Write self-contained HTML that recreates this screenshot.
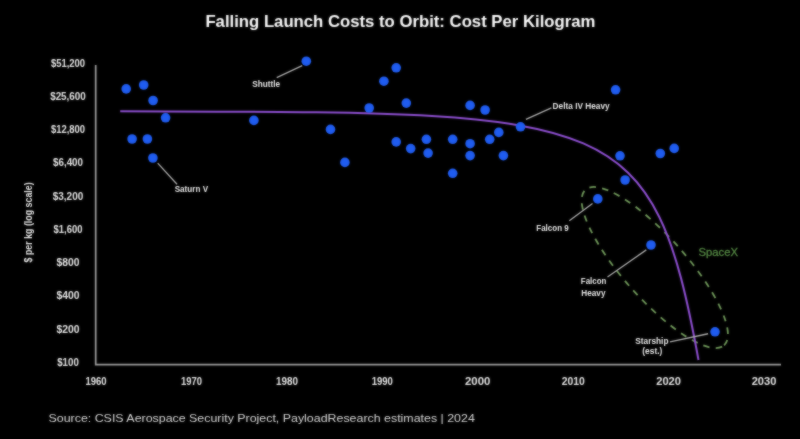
<!DOCTYPE html>
<html><head><meta charset="utf-8"><style>
html,body{margin:0;padding:0;background:#000;width:800px;height:439px;overflow:hidden}
svg{display:block}
text{font-family:"Liberation Sans",sans-serif}
.t{font-weight:bold;font-size:16.2px;fill:#fff}
.yl{font-weight:bold;font-size:10px;fill:#e6e6e6}
.lb{font-size:9.3px;font-weight:bold;fill:#e8e8e8}
.sx{font-size:10.7px;fill:#558a44;stroke:#558a44;stroke-width:0.3px}
.src{font-size:11.6px;fill:#dadada}
</style></head><body>
<svg width="800" height="439" viewBox="0 0 800 439">
<defs><filter id="b" x="-2%" y="-2%" width="104%" height="104%" color-interpolation-filters="sRGB"><feGaussianBlur in="SourceGraphic" stdDeviation="1" result="bl"/><feComposite in="SourceGraphic" in2="bl" operator="arithmetic" k1="0" k2="0.45" k3="0.55" k4="0"/></filter></defs><rect width="800" height="439" fill="#000"/><g filter="url(#b)">
<text x="400.4" y="26.9" text-anchor="middle" class="t" textLength="390" lengthAdjust="spacingAndGlyphs">Falling Launch Costs to Orbit: Cost Per Kilogram</text>
<text x="68" y="66.5" text-anchor="middle" class="yl" textLength="34.25" lengthAdjust="spacingAndGlyphs">$51,200</text>
<text x="68" y="99.7" text-anchor="middle" class="yl" textLength="35.7" lengthAdjust="spacingAndGlyphs">$25,600</text>
<text x="68" y="133.0" text-anchor="middle" class="yl" textLength="34.1" lengthAdjust="spacingAndGlyphs">$12,800</text>
<text x="68" y="166.2" text-anchor="middle" class="yl" textLength="30.0" lengthAdjust="spacingAndGlyphs">$6,400</text>
<text x="68" y="199.5" text-anchor="middle" class="yl" textLength="30.5" lengthAdjust="spacingAndGlyphs">$3,200</text>
<text x="68" y="232.7" text-anchor="middle" class="yl" textLength="28.9" lengthAdjust="spacingAndGlyphs">$1,600</text>
<text x="68" y="266.0" text-anchor="middle" class="yl" textLength="22.9" lengthAdjust="spacingAndGlyphs">$800</text>
<text x="68" y="299.3" text-anchor="middle" class="yl" textLength="23.1" lengthAdjust="spacingAndGlyphs">$400</text>
<text x="68" y="332.5" text-anchor="middle" class="yl" textLength="23.1" lengthAdjust="spacingAndGlyphs">$200</text>
<text x="68" y="365.8" text-anchor="middle" class="yl" textLength="21.6" lengthAdjust="spacingAndGlyphs">$100</text>
<text x="96.0" y="385.4" text-anchor="middle" class="yl" textLength="21.2" lengthAdjust="spacingAndGlyphs">1960</text>
<text x="191.4" y="385.4" text-anchor="middle" class="yl" textLength="21" lengthAdjust="spacingAndGlyphs">1970</text>
<text x="286.9" y="385.4" text-anchor="middle" class="yl" textLength="22" lengthAdjust="spacingAndGlyphs">1980</text>
<text x="382.3" y="385.4" text-anchor="middle" class="yl" textLength="21.2" lengthAdjust="spacingAndGlyphs">1990</text>
<text x="477.7" y="385.4" text-anchor="middle" class="yl" textLength="25.3" lengthAdjust="spacingAndGlyphs">2000</text>
<text x="573.2" y="385.4" text-anchor="middle" class="yl" textLength="23.1" lengthAdjust="spacingAndGlyphs">2010</text>
<text x="668.6" y="385.4" text-anchor="middle" class="yl" textLength="24.7" lengthAdjust="spacingAndGlyphs">2020</text>
<text x="764.0" y="385.4" text-anchor="middle" class="yl" textLength="24.7" lengthAdjust="spacingAndGlyphs">2030</text>
<text transform="translate(31.5,222.4) rotate(-90)" x="0" y="0" text-anchor="middle" class="yl" textLength="80" lengthAdjust="spacingAndGlyphs">$ per kg (log scale)</text>
<path d="M95.7,65 V364.7 H781" fill="none" stroke="#a0a0a0" stroke-width="1.7"/>
<ellipse cx="654.8" cy="267.5" rx="104.2" ry="31.3" transform="rotate(48.3 654.8 267.5)" fill="none" stroke="#729c5c" stroke-width="1.8" stroke-dasharray="6.5 6.3" stroke-dashoffset="-2.5"/>
<path d="M120.2,111.3 C611,112.9 652,104.4 698.5,360" fill="none" stroke="#9050d4" stroke-width="2"/>
<line x1="157.7" y1="163.1" x2="177" y2="184.2" stroke="#b0b0b0" stroke-width="1.3"/>
<line x1="302.2" y1="65.7" x2="276.7" y2="77.6" stroke="#b0b0b0" stroke-width="1.3"/>
<line x1="525.9" y1="119.4" x2="551.4" y2="107.9" stroke="#b0b0b0" stroke-width="1.3"/>
<line x1="592.5" y1="203.4" x2="569.3" y2="220.8" stroke="#b0b0b0" stroke-width="1.3"/>
<line x1="646.3" y1="249.9" x2="607.5" y2="277" stroke="#b0b0b0" stroke-width="1.3"/>
<line x1="708.1" y1="333.75" x2="670" y2="341.9" stroke="#b0b0b0" stroke-width="1.3"/>
<circle cx="126.2" cy="88.9" r="4.8" fill="#1f5cf0"/>
<circle cx="143.7" cy="85.0" r="4.8" fill="#1f5cf0"/>
<circle cx="153.1" cy="100.5" r="4.8" fill="#1f5cf0"/>
<circle cx="165.6" cy="117.8" r="4.8" fill="#1f5cf0"/>
<circle cx="132.1" cy="139.0" r="4.8" fill="#1f5cf0"/>
<circle cx="147.4" cy="139.0" r="4.8" fill="#1f5cf0"/>
<circle cx="152.9" cy="158" r="4.8" fill="#1f5cf0"/>
<circle cx="306.3" cy="61.2" r="4.8" fill="#1f5cf0"/>
<circle cx="253.9" cy="120.4" r="4.8" fill="#1f5cf0"/>
<circle cx="330.5" cy="129.4" r="4.8" fill="#1f5cf0"/>
<circle cx="396.2" cy="67.8" r="4.8" fill="#1f5cf0"/>
<circle cx="383.9" cy="81.2" r="4.8" fill="#1f5cf0"/>
<circle cx="369.2" cy="108.0" r="4.8" fill="#1f5cf0"/>
<circle cx="406.3" cy="103.1" r="4.8" fill="#1f5cf0"/>
<circle cx="396.2" cy="141.9" r="4.8" fill="#1f5cf0"/>
<circle cx="410.7" cy="148.6" r="4.8" fill="#1f5cf0"/>
<circle cx="344.9" cy="162.4" r="4.8" fill="#1f5cf0"/>
<circle cx="470.1" cy="105.4" r="4.8" fill="#1f5cf0"/>
<circle cx="485.1" cy="110.0" r="4.8" fill="#1f5cf0"/>
<circle cx="520.5" cy="126.8" r="4.8" fill="#1f5cf0"/>
<circle cx="498.8" cy="132.4" r="4.8" fill="#1f5cf0"/>
<circle cx="489.7" cy="139.3" r="4.8" fill="#1f5cf0"/>
<circle cx="426.4" cy="139.3" r="4.8" fill="#1f5cf0"/>
<circle cx="452.7" cy="139.3" r="4.8" fill="#1f5cf0"/>
<circle cx="470.1" cy="143.7" r="4.8" fill="#1f5cf0"/>
<circle cx="428.1" cy="153.1" r="4.8" fill="#1f5cf0"/>
<circle cx="470.1" cy="155.6" r="4.8" fill="#1f5cf0"/>
<circle cx="503.4" cy="155.6" r="4.8" fill="#1f5cf0"/>
<circle cx="452.7" cy="173.3" r="4.8" fill="#1f5cf0"/>
<circle cx="615.6" cy="89.8" r="4.8" fill="#1f5cf0"/>
<circle cx="620.0" cy="155.8" r="4.8" fill="#1f5cf0"/>
<circle cx="625.1" cy="180.0" r="4.8" fill="#1f5cf0"/>
<circle cx="660.3" cy="153.5" r="4.8" fill="#1f5cf0"/>
<circle cx="674.2" cy="148.4" r="4.8" fill="#1f5cf0"/>
<circle cx="597.8" cy="198.9" r="4.8" fill="#1f5cf0"/>
<circle cx="651.0" cy="245.0" r="4.8" fill="#1f5cf0"/>
<circle cx="715.0" cy="331.8" r="4.8" fill="#1f5cf0"/>
<text x="174.7" y="192.1" text-anchor="start" class="lb" textLength="33.4" lengthAdjust="spacingAndGlyphs">Saturn V</text>
<text x="252.3" y="86.6" text-anchor="start" class="lb" textLength="27.8" lengthAdjust="spacingAndGlyphs">Shuttle</text>
<text x="552.6" y="108.8" text-anchor="start" class="lb" textLength="57.1" lengthAdjust="spacingAndGlyphs">Delta IV Heavy</text>
<text x="536.3" y="230.5" text-anchor="start" class="lb" textLength="32.4" lengthAdjust="spacingAndGlyphs">Falcon 9</text>
<text x="593.6" y="284.4" text-anchor="middle" class="lb" textLength="25.5" lengthAdjust="spacingAndGlyphs">Falcon</text>
<text x="593.4" y="295.8" text-anchor="middle" class="lb" textLength="24.2" lengthAdjust="spacingAndGlyphs">Heavy</text>
<text x="651.9" y="343.5" text-anchor="middle" class="lb" textLength="33.2" lengthAdjust="spacingAndGlyphs">Starship</text>
<text x="652.3" y="354.4" text-anchor="middle" class="lb" textLength="20" lengthAdjust="spacingAndGlyphs">(est.)</text>
<text x="698.6" y="255.7" class="sx" textLength="39.4" lengthAdjust="spacingAndGlyphs">SpaceX</text>
<text x="48.5" y="422.4" class="src" textLength="426.3" lengthAdjust="spacingAndGlyphs">Source: CSIS Aerospace Security Project, PayloadResearch estimates | 2024</text>
</g></svg>
</body></html>
